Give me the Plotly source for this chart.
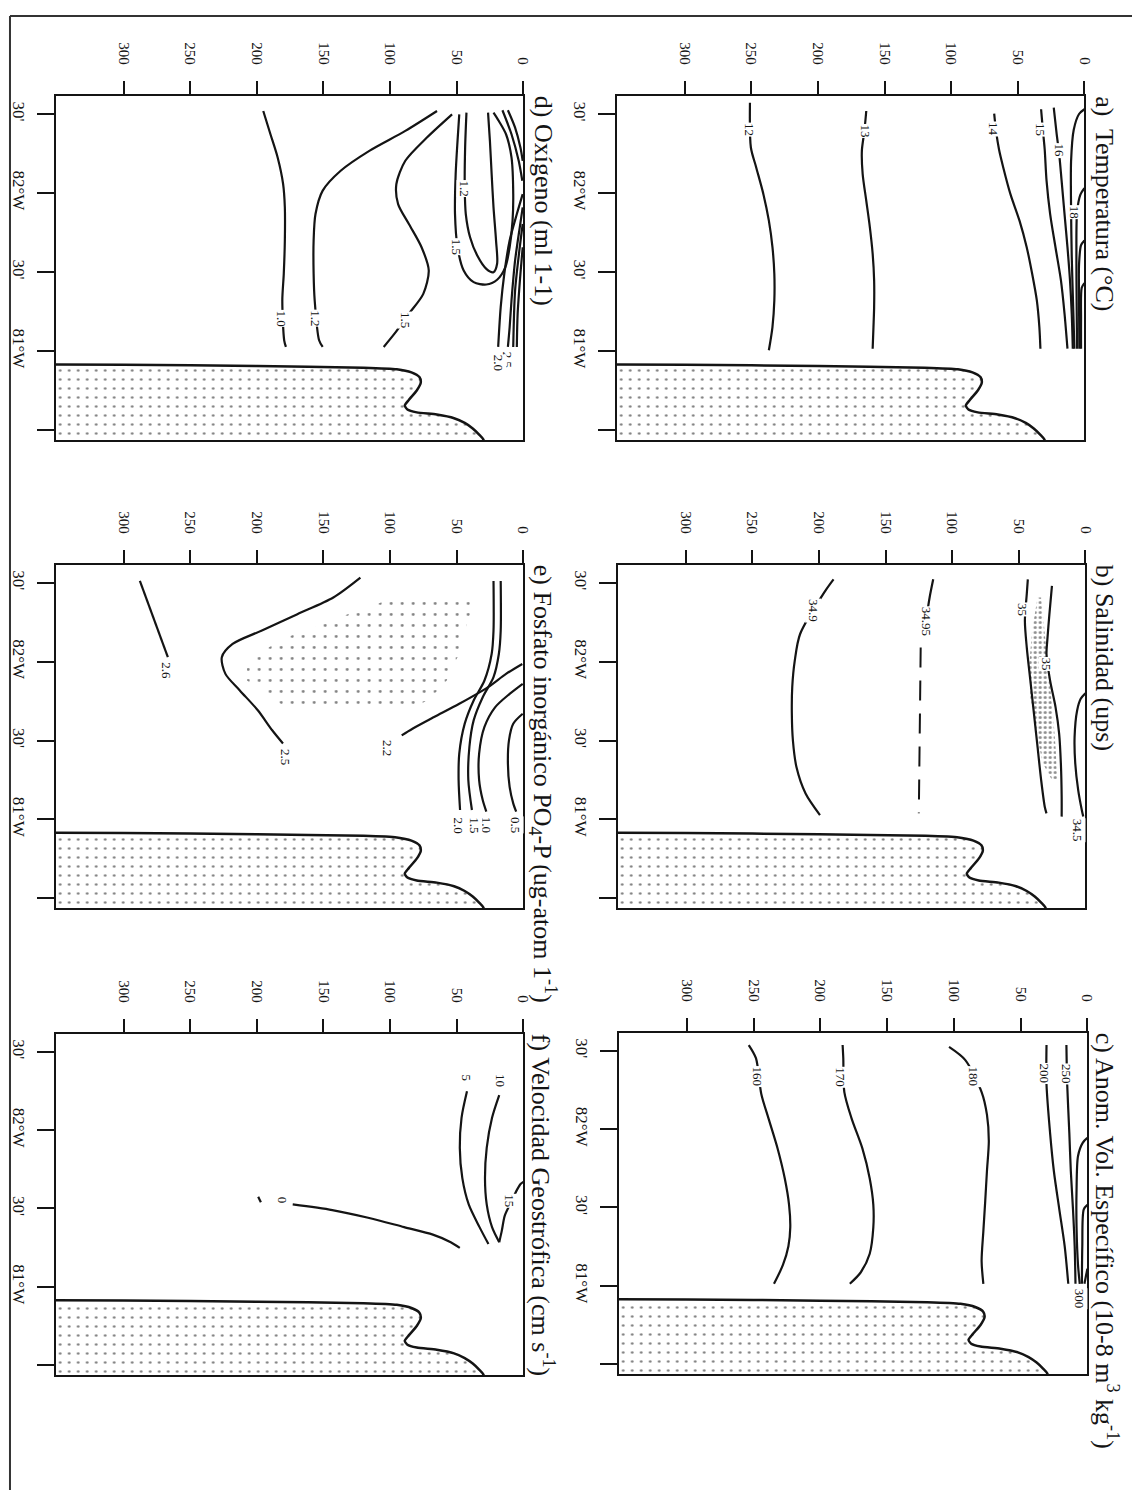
import plotly.graph_objects as go

# ---------------- data ----------------
DEPTH_TICKS = [0, 50, 100, 150, 200, 250, 300]
LON_TICKS = [82.5, 82.0, 81.5, 81.0]
LON_TICK_TEXT = ["30'", "82°W", "30'", "81°W"]
LON_MINOR_TICKS = [80.5]
DEPTH_RANGE = [351, 0]
LON_RANGE = [80.437, 82.614]

# sea-floor / land profile (depth m, longitude °W)
LAND_DEPTH = [380, 300, 200, 120, 95, 84, 78, 77, 80, 86, 89, 87, 80, 65, 52, 44, 38, 33, 30, 30, 380]
LAND_LON = [80.915, 80.913, 80.905, 80.895, 80.885, 80.865, 80.835, 80.80, 80.75, 80.69, 80.655,
            80.63, 80.612, 80.598, 80.575, 80.545, 80.51, 80.47, 80.44, 80.2, 80.2]

# a) Temperatura
TEMP_LINES = [
    ("12", [251, 250.3, 246.3, 240.9, 236.8, 234.1, 232.7, 232.7, 234.1, 236.8],
           [82.572, 82.288, 82.162, 81.993, 81.825, 81.657, 81.489, 81.320, 81.152, 81.005]),
    ("13", [163.7, 165.1, 167, 166.4, 163.7, 161, 158.9, 157.8, 157.8, 158.3, 158.9],
           [82.519, 82.393, 82.267, 82.12, 81.951, 81.783, 81.615, 81.447, 81.278, 81.152, 81.015]),
    ("14", [67.7, 66.3, 64.1, 60.9, 55.5, 48.7, 43.3, 39.2, 35.7, 33.8, 33.0],
           [82.503, 82.393, 82.277, 82.162, 81.993, 81.825, 81.657, 81.489, 81.320, 81.152, 81.015]),
    ("15", [32.5, 31.1, 29.8, 28.4, 25.7, 21.7, 17.6, 14.9, 12.7],
           [82.53, 82.393, 82.277, 82.078, 81.867, 81.657, 81.447, 81.236, 81.015]),
    ("16", [23, 20.8, 18.9, 17.1, 14.9, 12.7, 10.8, 9.5, 8.7],
           [82.54, 82.372, 82.246, 82.078, 81.867, 81.657, 81.447, 81.236, 81.015]),
    ("17", [0, 4, 8, 10, 10, 9.5, 8.5, 7.5],
           [82.53, 82.50, 82.40, 82.2, 81.9, 81.6, 81.3, 81.015]),
    ("18", [0, 3, 5.5, 6, 5.8, 5.5],
           [82.03, 81.99, 81.88, 81.6, 81.3, 81.015]),
    ("19", [0, 2.5, 4, 4, 3.8],
           [81.70, 81.67, 81.55, 81.3, 81.015]),
    ("20", [0, 2, 2.5, 2.5],
           [81.43, 81.40, 81.2, 81.015]),
]
TEMP_LABELS = [("12", 250.9, 82.404), ("13", 164.3, 82.393), ("14", 67.7, 82.404),
               ("15", 32.5, 82.404), ("16", 18.9, 82.267), ("18", 7.3, 81.878)]

# b) Salinidad
SAL_LINES = [
    ("34.9", [189, 195.2, 214.1, 218.1, 220, 220.3, 219.5, 216.8, 210, 199.2],
             [82.523, 82.45, 82.176, 82.007, 81.839, 81.67, 81.5, 81.33, 81.164, 81.027]),
    ("34.95", [114.2, 116.9, 119.6], [82.523, 82.408, 82.26]),
    ("35", [43.2, 44, 45.4, 44, 41.3, 38.6, 35.9, 33.2, 30.5, 29.2],
           [82.523, 82.429, 82.26, 82.091, 81.881, 81.67, 81.459, 81.249, 81.08, 81.038]),
    ("35", [25.1, 27, 28.6, 29.2, 26.5, 22.4, 19.7, 18.4, 17.8, 17.8],
           [82.481, 82.302, 82.134, 82.049, 81.881, 81.712, 81.544, 81.354, 81.143, 81.017]),
    ("34.5", [0, 3.5, 6.2, 8.1, 7.6, 5.4, 2.7, 1.6],
             [81.8, 81.765, 81.691, 81.522, 81.354, 81.185, 81.059, 81.017]),
]
SAL_DASHED_DEPTH = [123.6, 124.5, 125]
SAL_DASHED_LON = [82.09, 81.6, 81.038]
SAL_STIPPLE_DEPTH = [35.9, 40, 42.1, 41.3, 37.3, 31.9, 25.1, 21.1, 22.4, 24.3, 27, 29.7, 31.9, 33.2]
SAL_STIPPLE_LON = [82.407, 82.197, 81.986, 81.775, 81.565, 81.354, 81.249, 81.249, 81.459, 81.67,
                   81.881, 82.091, 82.302, 82.407]
SAL_LABELS = [("34.9", 204.6, 82.323), ("34.95", 119.6, 82.26), ("35", 46.7, 82.334),
              ("35", 29.2, 81.986), ("34.5", 6.2, 80.933)]

# c) Anomalia del volumen especifico
SVA_LINES = [
    ("160", [253.6, 248.2, 244.2, 238.8, 232, 226.6, 223.4, 222.5, 223.9, 228, 234.7],
            [82.537, 82.453, 82.225, 82.069, 81.877, 81.685, 81.517, 81.373, 81.253, 81.133, 81.013]),
    ("170", [183.3, 182.8, 182, 176.6, 168.5, 163, 160.3, 160.3, 163, 169.8, 177.9],
            [82.537, 82.453, 82.237, 82.069, 81.877, 81.685, 81.517, 81.373, 81.205, 81.085, 81.013]),
    ("180", [103.6, 91.4, 79.2, 75.2, 73.8, 75.2, 76.5, 77.9, 79.2, 77.9],
            [82.525, 82.441, 82.237, 82.093, 81.925, 81.733, 81.541, 81.349, 81.157, 81.013]),
    ("200", [30.6, 30.6, 27.9, 25.1, 21.1, 17, 14.3],
            [82.537, 82.285, 81.973, 81.733, 81.493, 81.253, 81.013]),
    ("250", [15.7, 15.1, 13.5, 12.4, 10.8, 9.5, 8.9],
            [82.537, 82.285, 81.973, 81.733, 81.493, 81.253, 81.013]),
    ("300", [0, 3.5, 7, 8.1, 8.1, 7, 5.7],
            [81.944, 81.913, 81.829, 81.613, 81.373, 81.133, 81.013]),
    ("350", [0, 2.7, 3.8, 4.1], [81.517, 81.488, 81.253, 81.013]),
    ("400", [0, 2.2], [81.109, 81.013]),
]
SVA_LABELS = [("160", 246.9, 82.338), ("170", 184.7, 82.333), ("180", 84.6, 82.333),
              ("200", 31.9, 82.357), ("250", 15.7, 82.35), ("300", 6.2, 80.917)]

# d) Oxigeno
OXY_LINES = [
    ("1.0", [195.2, 189.8, 184.4, 180.3, 179, 179, 179.8, 180.9, 179.5, 178.2],
            [82.519, 82.372, 82.225, 82.057, 81.91, 81.70, 81.49, 81.32, 81.068, 81.026]),
    ("1.2", [64.8, 88.6, 115.6, 137.1, 150.6, 156, 157.4, 157.4, 156.6, 153.3, 150.6],
            [82.519, 82.393, 82.267, 82.141, 82.015, 81.867, 81.699, 81.489, 81.320, 81.068, 81.026]),
    ("1.5", [53.5, 72.4, 88.6, 95.3, 94, 85.9, 76.4, 71, 75.1, 85.9, 96.7, 104.8],
            [82.498, 82.351, 82.204, 82.057, 81.930, 81.804, 81.657, 81.510, 81.362, 81.236, 81.110, 81.026]),
    ("1.2", [42.7, 43.7, 44, 43.2, 40, 34.6, 27.8, 22.4, 19.7, 20.5, 22.4, 23.8, 25.1, 26.5],
            [82.509, 82.288, 82.036, 81.867, 81.72, 81.604, 81.52, 81.499, 81.552, 81.699, 81.909,
             82.12, 82.33, 82.509]),
    ("1.5", [48.1, 49.4, 50.8, 51.3, 49.4, 44.8, 37.3, 27.8, 19.7, 13.5, 10.3, 8.1, 7.6, 8.9, 13, 18.4, 22.4],
            [82.498, 82.33, 82.12, 81.867, 81.657, 81.510, 81.436, 81.421, 81.451, 81.531, 81.657,
             81.825, 81.993, 82.225, 82.372, 82.456, 82.509]),
    ("2.0", [15.7, 8.9, 3.5, 0.8], [82.524, 82.372, 82.204, 82.078]),
    ("2.5", [11.6, 6.2, 2.2, 0.5], [82.524, 82.414, 82.288, 82.204]),
    ("2.0", [0.5, 4.9, 10.3, 14.3, 17, 18.9], [81.993, 81.867, 81.699, 81.489, 81.278, 81.026]),
    ("2.5", [0.5, 2.7, 6.2, 8.9, 10.3, 11.6], [81.909, 81.783, 81.573, 81.32, 81.15, 81.026]),
    ("3.0", [0.5, 2.7, 6.2, 7.6], [81.804, 81.657, 81.383, 81.026]),
    ("3.5", [0.5, 2.2, 4.3, 4.9], [81.657, 81.489, 81.236, 81.026]),
]
OXY_LABELS = [("1.2", 44, 82.03), ("1.5", 50.5, 81.66), ("1.0", 181.7, 81.205),
              ("1.2", 156, 81.205), ("1.5", 88.6, 81.194), ("2.5", 11.6, 80.946), ("2.0", 19, 80.925)]

# e) Fosfato inorganico
PHO_LINES = [
    ("2.6", [287.8, 266.8], [82.513, 82.029]),
    ("2.5", [122.3, 142.6, 169.6, 196.6, 218.2, 226.3, 223.6, 212.8, 199.3, 188.5, 180.4],
            [82.534, 82.408, 82.302, 82.197, 82.113, 82.029, 81.923, 81.818, 81.692, 81.565, 81.481]),
    ("2.2", [0.8, 13, 26.5, 48.1, 67, 83.2, 91.3],
            [81.986, 81.923, 81.839, 81.733, 81.649, 81.575, 81.533]),
    ("2.0", [22.4, 22.4, 23.8, 29.2, 37.3, 44, 48.1, 48.6, 47.5],
            [82.513, 82.197, 82.049, 81.881, 81.754, 81.607, 81.417, 81.249, 81.059]),
    ("1.5", [17, 17, 18.4, 22.4, 30.5, 37.3, 40.5, 41.3, 38.6],
            [82.513, 82.197, 82.049, 81.902, 81.775, 81.628, 81.459, 81.249, 81.059]),
    ("1.0", [0.5, 10.3, 21.1, 29.2, 33.2, 33.2, 30.5, 27.8],
            [81.86, 81.796, 81.712, 81.586, 81.417, 81.249, 81.122, 81.049]),
    ("0.5", [0.5, 7.6, 10.8, 11.6, 10.3, 7.6, 5.4],
            [81.67, 81.607, 81.501, 81.354, 81.206, 81.101, 81.049]),
]
PHO_STIPPLE_DEPTH = [91.3, 110.2, 131.8, 153.4, 177.7, 191.2, 202, 207.4, 207.4, 196.6, 185.8, 175,
                     85.9, 72.4, 64.3, 57.5, 53.5, 49.4, 46.7, 45.4, 40, 38.6, 42.7]
PHO_STIPPLE_LON = [82.429, 82.365, 82.302, 82.228, 82.155, 82.091, 82.028, 81.965, 81.881, 81.817,
                   81.754, 81.691, 81.691, 81.754, 81.817, 81.881, 81.965, 82.028, 82.091, 82.155,
                   82.302, 82.365, 82.429]
PHO_LABELS = [("2.6", 268, 81.944), ("2.5", 179, 81.396), ("2.2", 102, 81.449),
              ("0.5", 6.2, 80.964), ("1.0", 27.8, 80.964), ("1.5", 37.3, 80.964), ("2.0", 49.4, 80.964)]

# f) Velocidad geostrofica
VEL_LINES = [
    ("10", [18.1, 23.5, 27.5, 28.8, 27.5, 23.5, 18.1],
           [82.224, 82.079, 81.887, 81.694, 81.526, 81.381, 81.285]),
    ("15", [0, 1.9, 4.6, 10, 14, 16.2, 18.1],
           [81.67, 81.658, 81.622, 81.526, 81.453, 81.357, 81.285]),
    ("5", [42.3, 46.4, 47.7, 45.8, 41, 32.9, 26.2],
          [82.248, 82.079, 81.887, 81.694, 81.526, 81.381, 81.273]),
    ("0", [173.1, 143.4, 116.5, 89.5, 67.9, 54.5, 47.7],
          [81.526, 81.49, 81.441, 81.381, 81.333, 81.285, 81.249]),
    ("0", [199, 197], [81.575, 81.54]),
]
VEL_LABELS = [("10", 16.7, 82.32), ("5", 42.3, 82.33), ("15", 10.5, 81.55), ("0", 181, 81.555)]

# ---------------- layout ----------------
W, H = 1140, 1490
SERIF = "Liberation Serif, Times New Roman, serif"
INK = "#141414"

PANELS = [
    dict(key="a", title="a)  Temperatura (°C)", lines=TEMP_LINES, labels=TEMP_LABELS,
         box=(613, 1084, 88, 432)),
    dict(key="b", title="b) Salinidad (ups)", lines=SAL_LINES, labels=SAL_LABELS,
         box=(614, 1085, 557, 900)),
    dict(key="c", title="c) Anom. Vol. Específico (10-8 m<sup>3</sup> kg<sup>-1</sup>)",
         lines=SVA_LINES, labels=SVA_LABELS, box=(615, 1087, 1025, 1366)),
    dict(key="d", title="d) Oxígeno (ml 1-1)", lines=OXY_LINES, labels=OXY_LABELS,
         box=(48, 519, 88, 432)),
    dict(key="e", title="e) Fosfato inorgánico PO<sub>4</sub>-P (ug-atom 1<sup>-1</sup>)",
         lines=PHO_LINES, labels=PHO_LABELS, box=(48, 519, 557, 900)),
    dict(key="f", title="f) Velocidad Geostrófica (cm s<sup>-1</sup>)",
         lines=VEL_LINES, labels=VEL_LABELS, box=(48, 519, 1026, 1367)),
]

fig = go.Figure()
annotations = []
layout = dict(width=W, height=H, margin=dict(l=0, r=0, t=0, b=0),
              paper_bgcolor="white", plot_bgcolor="white", showlegend=False)

for i, p in enumerate(PANELS):
    n = "" if i == 0 else str(i + 1)
    xr, yr = "x" + n, "y" + n
    x0, x1, y0, y1 = p["box"]
    layout["xaxis" + n] = dict(
        domain=[x0 / W, x1 / W], range=DEPTH_RANGE, side="top", anchor=yr,
        showline=True, mirror=True, linecolor=INK, linewidth=2,
        ticks="outside", ticklen=13, tickwidth=2, tickcolor=INK,
        tickvals=DEPTH_TICKS, tickangle=90, ticklabelstandoff=11,
        tickfont=dict(family=SERIF, size=15, color=INK),
        showgrid=False, zeroline=False, fixedrange=True)
    layout["yaxis" + n] = dict(
        domain=[1 - y1 / H, 1 - y0 / H], range=LON_RANGE, anchor=xr,
        showline=True, mirror=True, linecolor=INK, linewidth=2,
        ticks="outside", ticklen=17, tickwidth=2, tickcolor=INK,
        tickvals=LON_TICKS, ticktext=LON_TICK_TEXT, tickangle=90, ticklabelstandoff=3,
        tickfont=dict(family=SERIF, size=17, color=INK),
        minor=dict(tickvals=LON_MINOR_TICKS, ticks="outside", ticklen=17, tickwidth=2,
                   tickcolor=INK, showgrid=False),
        showgrid=False, zeroline=False, fixedrange=True)

    # stippled regions
    if p["key"] == "b":
        fig.add_trace(go.Scatter(x=SAL_STIPPLE_DEPTH, y=SAL_STIPPLE_LON, xaxis=xr, yaxis=yr,
                                 mode="lines", fill="toself", line=dict(width=0, color="white"),
                                 fillcolor="white",
                                 fillpattern=dict(shape=".", size=5, solidity=0.3,
                                                  fgcolor="#222", bgcolor="white"),
                                 hoverinfo="skip"))
        fig.add_trace(go.Scatter(x=SAL_DASHED_DEPTH, y=SAL_DASHED_LON, xaxis=xr, yaxis=yr,
                                 mode="lines", line=dict(color=INK, width=2, dash="20px,13px"),
                                 hoverinfo="skip"))
    if p["key"] == "e":
        fig.add_trace(go.Scatter(x=PHO_STIPPLE_DEPTH, y=PHO_STIPPLE_LON, xaxis=xr, yaxis=yr,
                                 mode="lines", fill="toself", line=dict(width=0, color="white"),
                                 fillcolor="white",
                                 fillpattern=dict(shape=".", size=11, solidity=0.05,
                                                  fgcolor="black", bgcolor="white"),
                                 hoverinfo="skip"))

    # contour lines
    for name, dep, lon in p["lines"]:
        fig.add_trace(go.Scatter(x=dep, y=lon, xaxis=xr, yaxis=yr, mode="lines",
                                 line=dict(color=INK, width=2.2, shape="spline", smoothing=0.8),
                                 name=name, hoverinfo="skip"))

    # land (stippled)
    fig.add_trace(go.Scatter(x=LAND_DEPTH, y=LAND_LON, xaxis=xr, yaxis=yr, mode="lines",
                             fill="toself", line=dict(color=INK, width=2.5, shape="spline", smoothing=0.6),
                             fillcolor="white",
                             fillpattern=dict(shape=".", size=9, solidity=0.07,
                                              fgcolor="black", bgcolor="white"),
                             hoverinfo="skip"))

    # contour labels
    for txt, dep, lon in p["labels"]:
        annotations.append(dict(x=dep, y=lon, xref=xr, yref=yr, text=txt, showarrow=False,
                                textangle=90, bgcolor="white", borderpad=0,
                                font=dict(family=SERIF, size=13, color=INK)))

    # panel title (rotated, to the right of the box)
    annotations.append(dict(x=(x1 + 20) / W, y=1 - (y0 - 2) / H, xref="paper", yref="paper",
                            text=p["title"], showarrow=False, textangle=90,
                            xanchor="center", yanchor="top",
                            font=dict(family=SERIF, size=26, color=INK)))

layout["annotations"] = annotations
layout["shapes"] = [
    dict(type="line", xref="paper", yref="paper", x0=2 / W, x1=1137 / W, y0=1 - 8 / H, y1=1 - 8 / H,
         line=dict(color="#333", width=2)),
    dict(type="line", xref="paper", yref="paper", x0=2 / W, x1=2 / W, y0=0, y1=1 - 8 / H,
         line=dict(color="#333", width=2)),
    dict(type="line", xref="paper", yref="paper", x0=1137 / W, x1=1137 / W, y0=0, y1=1 - 8 / H,
         line=dict(color="#333", width=2)),
]
fig.update_layout(**layout)
fig.write_html("out.html")
